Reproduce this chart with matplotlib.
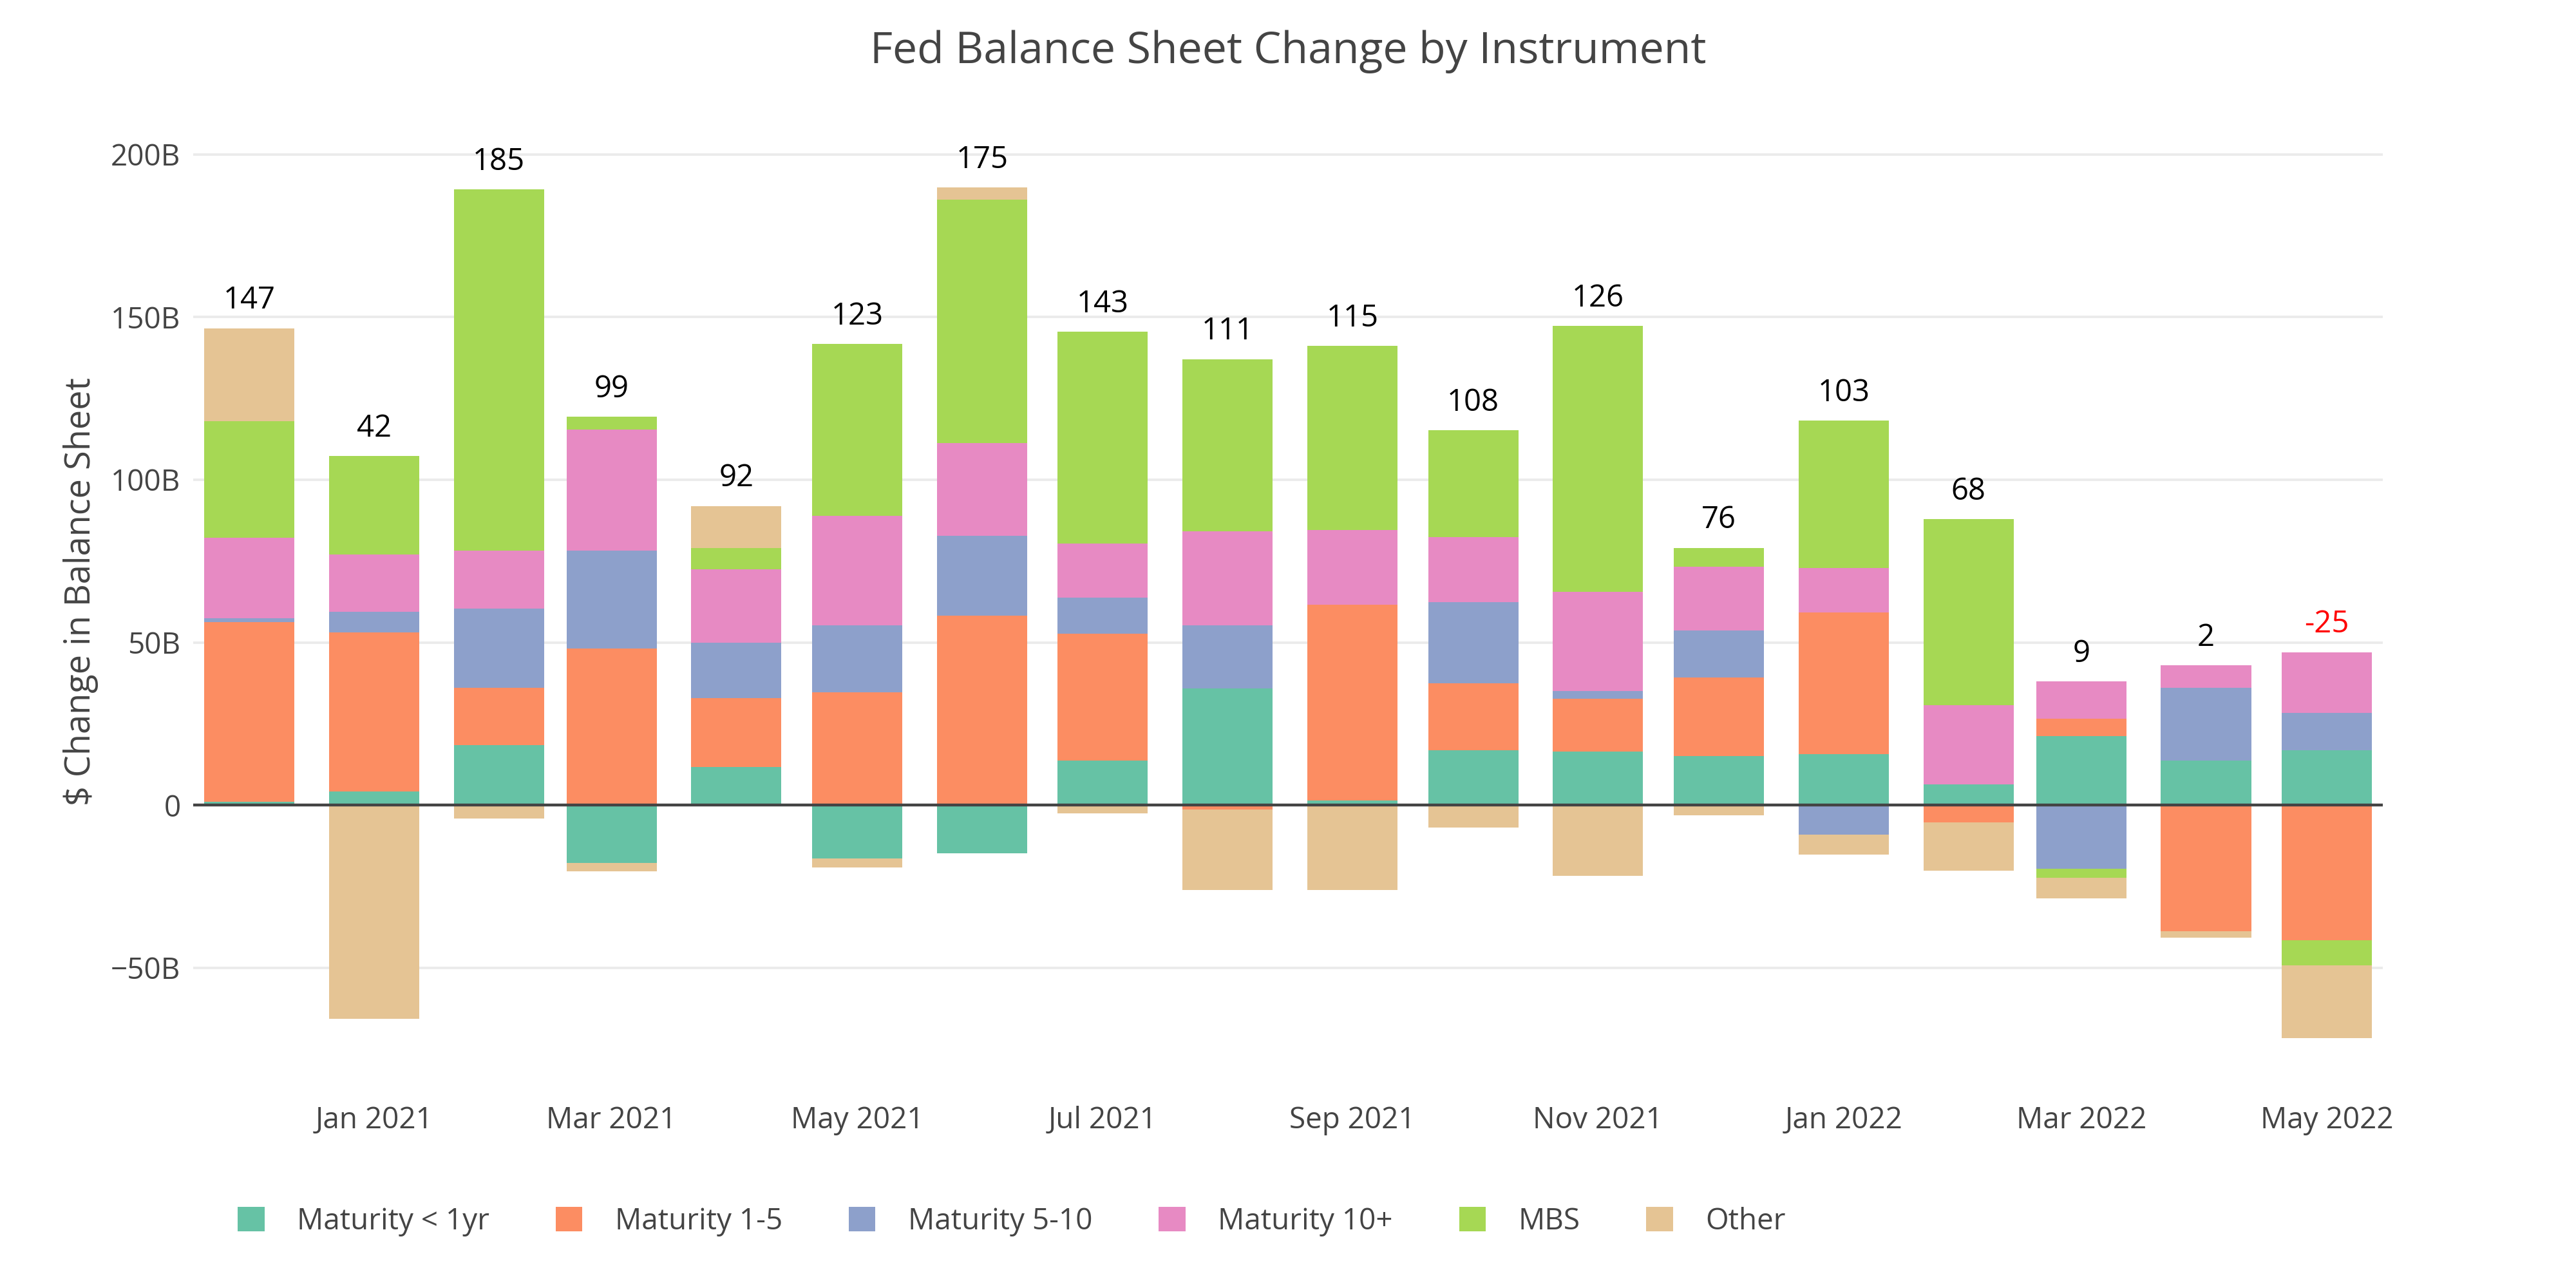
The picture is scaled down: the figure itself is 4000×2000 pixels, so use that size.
import numpy as np
import pandas as pd
import matplotlib
matplotlib.use("Agg")
import matplotlib.pyplot as plt
import matplotlib.dates as mdates
from matplotlib.ticker import FuncFormatter, FixedLocator
from matplotlib.patches import Patch

plt.rcParams['font.family'] = ['Open Sans', 'DejaVu Sans']

# monthly change by instrument, $B
months = pd.date_range("2020-12-01", "2022-05-01", freq="MS")
lt_1yr = [1.0, 4.2, 18.4, -17.8, 11.7, -16.5, -14.9, 13.6, 35.9, 1.5, 16.8, 16.5, 15.1, 15.7, 6.4, 21.2, 13.6, 16.8]
mat_1_5 = [55.2, 48.8, 17.6, 48.2, 21.2, 34.6, 58.3, 39.0, -1.3, 60.0, 20.6, 16.1, 24.2, 43.5, -5.3, 5.3, -38.8, -41.6]
mat_5_10 = [1.3, 6.4, 24.4, 30.1, 17.0, 20.6, 24.4, 11.2, 19.3, 0.0, 25.0, 2.5, 14.4, -9.1, 0.0, -19.5, 22.5, 11.5]
mat_10p = [24.6, 17.6, 17.8, 37.1, 22.5, 33.7, 28.5, 16.6, 28.9, 23.1, 19.9, 30.5, 19.5, 13.6, 24.4, 11.5, 6.8, 18.7]
mbs = [35.9, 30.3, 111.0, 4.0, 6.6, 52.8, 75.0, 65.1, 53.0, 56.5, 32.9, 81.7, 5.9, 45.4, 57.1, -2.8, 0.0, -7.6]
other = [28.6, -65.8, -4.2, -2.6, 12.9, -2.6, 3.6, -2.5, -24.8, -26.1, -7.0, -21.8, -3.2, -6.1, -14.8, -6.4, -1.9, -22.5]
net_change = [147, 42, 185, 99, 92, 123, 175, 143, 111, 115, 108, 126, 76, 103, 68, 9, 2, -25]

series_names = ["Maturity < 1yr", "Maturity 1-5", "Maturity 5-10", "Maturity 10+", "MBS", "Other"]
series_vals = [lt_1yr, mat_1_5, mat_5_10, mat_10p, mbs, other]
colors = ["#66c2a5", "#fc8d62", "#8da0cb", "#e78ac3", "#a6d854", "#e5c494"]

fig = plt.figure(figsize=(20, 10), dpi=200)
ax = fig.add_axes([0.075, 0.158, 0.85, 0.7655])

x = mdates.date2num(months)
width = 22.4  # days

pos_base = np.zeros(len(x))
neg_base = np.zeros(len(x))
for name, vals, c in zip(series_names, series_vals, colors):
    v = np.array(vals)
    base = np.where(v >= 0, pos_base, neg_base)
    ax.bar(x, v, width=width, bottom=base, color=c, linewidth=0, zorder=2)
    pos_base = pos_base + np.where(v >= 0, v, 0)
    neg_base = neg_base + np.where(v < 0, v, 0)

# net change labels above positive stack
for xi, top, lab in zip(x, pos_base, net_change):
    ax.annotate(str(lab), (xi, top), xytext=(0, 7), textcoords="offset points",
                ha="center", va="bottom", fontsize=17,
                color="red" if lab < 0 else "black")

ax.axhline(0, color="#444444", linewidth=1.6, zorder=3)

ax.set_xlim(x[0] - 13.9, x[-1] + 13.9)
ax.set_ylim(-85.9, 217.2)

ax.yaxis.set_major_locator(FixedLocator([-50, 0, 50, 100, 150, 200]))
ax.yaxis.set_major_formatter(FuncFormatter(
    lambda v, p: "0" if v == 0 else ("\u2212%dB" % abs(v) if v < 0 else "%dB" % v)))
ax.xaxis.set_major_locator(mdates.MonthLocator(bymonth=[1, 3, 5, 7, 9, 11]))
ax.xaxis.set_major_formatter(mdates.DateFormatter("%b %Y"))

ax.grid(axis="y", color="#ebebeb", linewidth=1.4, zorder=0)
ax.set_axisbelow(True)
for s in ax.spines.values():
    s.set_visible(False)
ax.tick_params(axis="both", length=0, labelsize=16.5, colors="#444444")
ax.tick_params(axis="x", pad=12)
ax.tick_params(axis="y", pad=7)

ax.set_ylabel("$ Change in Balance Sheet", fontsize=19.5, color="#444444", labelpad=7)
fig.suptitle("Fed Balance Sheet Change by Instrument", fontsize=24.5, color="#444444", y=0.960, va="center")

handles = [Patch(facecolor=c, edgecolor="none") for c in colors]
fig.legend(handles, series_names, loc="center left", bbox_to_anchor=(0.082, 0.0515),
           ncol=6, frameon=False, fontsize=16.5, labelcolor="#444444",
           handlelength=0.9, handleheight=0.9, handletextpad=1.1, columnspacing=2.25)

fig.savefig("out.png", dpi=200, facecolor="white")
